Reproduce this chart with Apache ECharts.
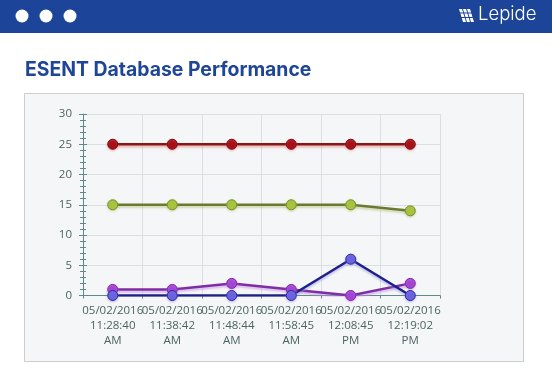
<!DOCTYPE html>
<html><head><meta charset="utf-8">
<script src="https://cdn.jsdelivr.net/npm/echarts@6/dist/echarts.min.js"></script>
<style>html,body{margin:0;padding:0;background:#fff}#c{width:552px;height:380px}</style>
</head><body><div id="c"></div>
<script>
const categories = ['05/02/2016\n11:28:40\nAM','05/02/2016\n11:38:42\nAM','05/02/2016\n11:48:44\nAM','05/02/2016\n11:58:45\nAM','05/02/2016\n12:08:45\nPM','05/02/2016\n12:19:02\nPM'];
const redSeries = [25,25,25,25,25,25];
const greenSeries = [15,15,15,15,15,14];
const purpleSeries = [1,1,2,1,0,2];
const blueSeries = [0,0,0,0,6,0];
const yTicks = {min:0, max:30, interval:5};

const chart = echarts.init(document.getElementById('c'), null, {renderer:'canvas'});
function mk(name, data, line, fill, border, glow){
  return {name, type:'line', data, symbol:'circle', symbolSize:10,
    lineStyle:{color:line, width:2.5, shadowColor:glow, shadowOffsetY:2, shadowBlur:2},
    itemStyle:{color:fill, borderColor:border, borderWidth:1, shadowColor:glow, shadowOffsetY:1, shadowBlur:2},
    emphasis:{disabled:true}, animation:false};
}
const axisCol = '#5d8a8a', labCol = '#4b6463', gridCol = '#d9dfe2';
const bx = 459;
chart.setOption({
  animation:false,
  graphic:[
    {type:'rect', shape:{x:0,y:0,width:552,height:33}, style:{fill:'#1c4599'}, z:-10},
    {type:'circle', shape:{cx:22,cy:16,r:6.5}, style:{fill:'#fff'}},
    {type:'circle', shape:{cx:46,cy:16,r:6.5}, style:{fill:'#fff'}},
    {type:'circle', shape:{cx:70,cy:16,r:6.5}, style:{fill:'#fff'}},
    {type:'polygon', shape:{points:[[bx,9],[bx+3,9],[bx+7,22],[bx+4,22]]}, style:{fill:'#fff'}},
    {type:'polygon', shape:{points:[[bx+4,9],[bx+7,9],[bx+11,22],[bx+8,22]]}, style:{fill:'#fff'}},
    {type:'polygon', shape:{points:[[bx+8,9],[bx+11,9],[bx+15,22],[bx+12,22]]}, style:{fill:'#fff'}},
    {type:'rect', shape:{x:bx,y:12.5,width:16,height:1}, style:{fill:'#1c4599'}},
    {type:'rect', shape:{x:bx,y:17,width:16,height:1}, style:{fill:'#1c4599'}},
    {type:'text', left:478, top:5, style:{text:'Lepide', fill:'#fff', font:'300 18.5px Inter, "Noto Sans", sans-serif'}},
    {type:'text', left:25, top:61, style:{text:'ESENT Database Performance', fill:'#1f4596', font:'bold 19.4px Inter, "Noto Sans", sans-serif'}},
    {type:'rect', shape:{x:24.5,y:93.5,width:499,height:268}, style:{fill:'#f5f6f7', stroke:'#cdcdcd', lineWidth:1}, z:-10}
  ],
  grid:{left:83, right:112, top:114, bottom:84.5, containLabel:false},
  xAxis:[{type:'category', data:categories, boundaryGap:true,
    axisLine:{lineStyle:{color:axisCol, width:1}},
    axisTick:{show:true, length:3, alignWithLabel:false, lineStyle:{color:axisCol}},
    axisLabel:{color:labCol, fontSize:11.5, fontFamily:'"Open Sans", sans-serif', lineHeight:15, margin:8, interval:0},
    splitLine:{show:true, lineStyle:{color:gridCol}}
  }],
  yAxis:[{type:'value', min:yTicks.min, max:yTicks.max, interval:yTicks.interval,
    axisLine:{show:true, lineStyle:{color:axisCol}},
    axisTick:{show:true, length:4, lineStyle:{color:axisCol}},
    minorTick:{show:true, splitNumber:5, length:3, lineStyle:{color:axisCol}},
    axisLabel:{color:labCol, fontSize:11.5, fontFamily:'"Open Sans", sans-serif', margin:11},
    splitLine:{show:true, lineStyle:{color:gridCol}}
  },{type:'value', position:'left', min:yTicks.min, max:yTicks.max, interval:yTicks.interval,
    axisLine:{show:false},
    axisTick:{show:true, inside:true, length:4, lineStyle:{color:axisCol}},
    minorTick:{show:true, splitNumber:5, length:3, lineStyle:{color:axisCol}},
    axisLabel:{show:false}, splitLine:{show:false}
  }],
  series:[
    mk('red', redSeries, '#8a1515', '#a80f17', '#7a0a10', 'rgba(220,120,120,0.5)'),
    mk('green', greenSeries, '#6a7a30', '#a6c43e', '#7a8f2a', 'rgba(170,190,110,0.5)'),
    mk('purple', purpleSeries, '#7d2ea6', '#a443d6', '#7b2aa0', 'rgba(200,140,230,0.6)'),
    mk('blue', blueSeries, '#1f1f8c', '#6b62e2', '#2a2a9a', 'rgba(140,140,220,0.5)')
  ]
});
</script></body></html>
